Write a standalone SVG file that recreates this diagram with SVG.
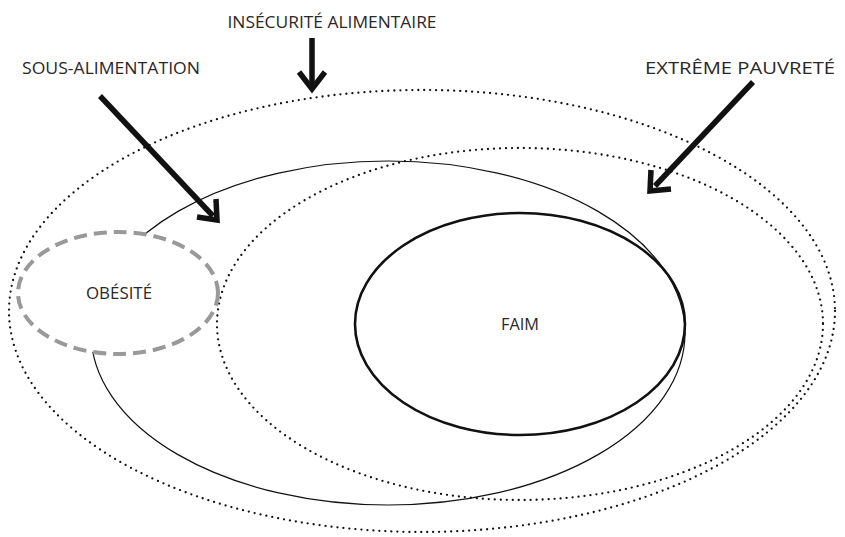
<svg xmlns="http://www.w3.org/2000/svg" width="845" height="537" viewBox="0 0 845 537">
<style>
.lbl{font-family:"Open Sans","Liberation Sans",Arial,sans-serif;font-size:17px;fill:#2a2728;text-anchor:middle}
.dot{fill:none;stroke:#111;stroke-width:2.3;stroke-dasharray:0 6;stroke-linecap:round}
.shaft{stroke:#111;stroke-width:5.5;fill:none}
.head{stroke:#111;stroke-width:5.5;fill:none;stroke-linejoin:miter;stroke-miterlimit:10}
</style>
<rect width="845" height="537" fill="#fff"/>
<g id="insecurite-alimentaire">
<ellipse class="dot" cx="422" cy="311" rx="413" ry="221"/>
<text class="lbl" x="332" y="28" textLength="209" lengthAdjust="spacingAndGlyphs">INSÉCURITÉ ALIMENTAIRE</text>
</g>
<g id="extreme-pauvrete">
<ellipse class="dot" cx="520" cy="324" rx="303" ry="176"/>
<text class="lbl" x="740" y="74" textLength="190" lengthAdjust="spacingAndGlyphs">EXTRÊME PAUVRETÉ</text>
</g>
<g id="sous-alimentation">
<ellipse cx="388" cy="333" rx="297" ry="172" fill="none" stroke="#111" stroke-width="1.2"/>
<text class="lbl" x="111" y="74" textLength="178" lengthAdjust="spacingAndGlyphs">SOUS-ALIMENTATION</text>
</g>
<g id="faim">
<ellipse cx="520" cy="324" rx="165" ry="111" fill="none" stroke="#111" stroke-width="2.6"/>
<text class="lbl" x="520" y="330" textLength="38" lengthAdjust="spacingAndGlyphs">FAIM</text>
</g>
<g id="obesite">
<ellipse cx="118" cy="293" rx="100" ry="61" fill="#fff" stroke="#999" stroke-width="4" stroke-dasharray="13 7"/>
<text class="lbl" x="119" y="299" textLength="66" lengthAdjust="spacingAndGlyphs">OBÉSITÉ</text>
</g>
<g id="connectors">
<line class="shaft" x1="312" y1="38" x2="312" y2="86"/>
<polyline class="head" points="299,72 312,89 325,72"/>
<line class="shaft" x1="100" y1="96" x2="213" y2="216"/>
<polyline class="head" points="197,217 217,220 216,199"/>
<line class="shaft" x1="753" y1="82" x2="655" y2="186"/>
<polyline class="head" points="651,170 650,191 671,189"/>
</g>
</svg>
